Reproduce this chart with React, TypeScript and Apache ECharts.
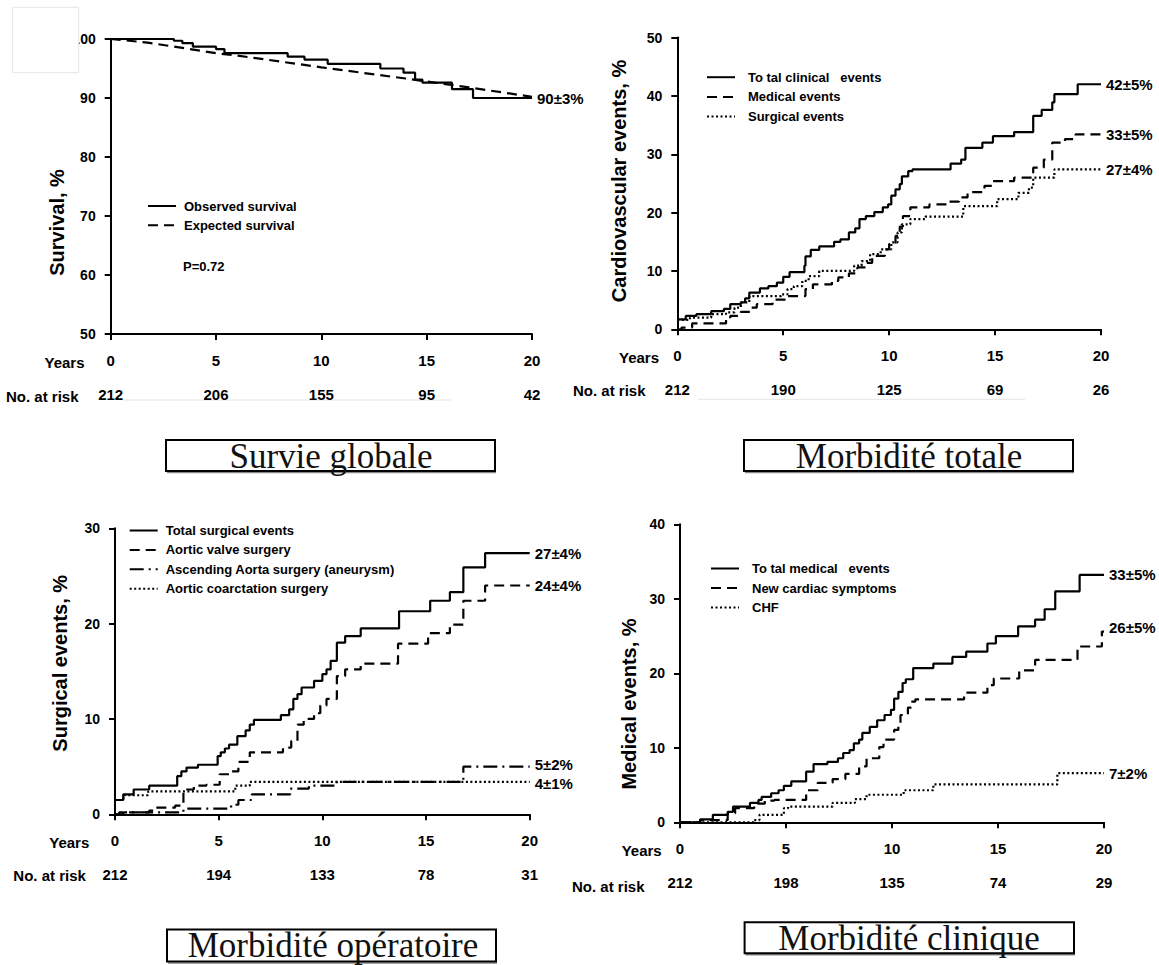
import React, { useEffect, useRef } from "react";
import * as echarts from "echarts";

// ---------- Data ----------
const yearTicks = [0, 5, 10, 15, 20];

const riskSurvival = [212, 206, 155, 95, 42];
const riskTotal = [212, 190, 125, 69, 26];
const riskSurgical = [212, 194, 133, 78, 31];
const riskMedical = [212, 198, 135, 74, 29];

// Panel 1 – Survie globale
const observedSurvival = [
  [0, 100], [3.0, 99.7], [3.4, 99.3], [3.9, 98.7], [5.0, 98.3], [5.4, 97.6], [8.4, 97.0],
  [9.2, 96.5], [10.3, 95.8], [12.8, 95.0], [13.9, 94.3], [14.45, 93.1], [14.8, 92.6],
  [16.2, 91.5], [17.2, 90.0], [20, 90.0],
];
const expectedSurvival = [
  [0, 100], [1.75, 99.4], [5, 97.6], [6, 97.2], [10, 95.2], [14, 93.3], [15, 92.8],
  [17, 91.8], [20, 90.2],
];

// Panel 2 – Morbidité totale
const totalClinical = [
  [0, 1.7], [0.4, 2.3], [0.9, 2.6], [1.6, 3.1], [2.2, 3.5], [2.5, 4.3], [3.0, 4.6], [3.2, 5.3],
  [3.4, 6.3], [3.9, 7.0], [4.3, 7.4], [4.7, 8.0], [5.0, 9.0], [5.3, 9.8], [6.0, 10.9],
  [6.05, 12.5], [6.3, 13.6], [6.7, 14.2], [7.4, 15.0], [7.7, 15.4], [8.1, 16.6], [8.4, 17.3],
  [8.6, 18.9], [8.9, 19.4], [9.3, 20.1], [9.7, 20.9], [9.95, 21.4], [10.1, 22.9], [10.3, 24.0],
  [10.5, 24.9], [10.6, 26.2], [10.9, 27.1], [11.1, 27.4], [12.9, 28.4], [13.4, 29.1],
  [13.6, 31.1], [14.4, 32.0], [14.9, 33.1], [15.9, 33.8], [16.8, 36.6], [17.2, 37.6],
  [17.7, 38.9], [17.8, 40.3], [18.9, 42.0], [20, 42.0],
];
const medicalEvents = [
  [0, 0], [0.2, 0.3], [0.7, 1.0], [2.3, 1.7], [2.5, 2.3], [3.0, 3.0], [3.5, 3.7], [3.75, 4.3],
  [4.5, 5.1], [5.2, 5.7], [6.05, 6.9], [6.4, 7.7], [7.3, 8.3], [7.6, 8.9], [8.1, 9.6],
  [8.5, 10.6], [8.9, 11.4], [9.2, 12.6], [9.8, 13.7], [10.0, 14.6], [10.3, 16.0], [10.5, 17.6],
  [10.65, 19.4], [11.0, 20.9], [11.9, 21.4], [12.8, 21.9], [13.3, 22.6], [13.7, 23.5],
  [14.5, 24.6], [14.9, 25.4], [15.9, 26.0], [16.8, 27.7], [17.3, 29.1], [17.7, 32.0],
  [18.3, 32.6], [18.8, 33.4], [20, 33.4],
];
const surgicalEvents = [
  [0, 1.6], [0.6, 2.0], [1.6, 2.6], [2.3, 2.9], [2.7, 3.7], [3.0, 4.6], [3.4, 5.7], [4.9, 6.0],
  [5.2, 6.9], [5.5, 7.4], [5.9, 8.3], [6.2, 9.1], [6.7, 10.0], [8.35, 10.9], [8.7, 11.7],
  [9.1, 12.9], [9.6, 13.7], [10.1, 14.9], [10.4, 16.6], [10.6, 18.0], [11.0, 18.9],
  [11.7, 19.3], [13.5, 21.1], [15.1, 22.3], [16.1, 23.4], [16.6, 24.3], [16.8, 26.0],
  [17.8, 27.4], [20, 27.4],
];

// Panel 3 – Morbidité opératoire
const totalSurgical = [
  [0, 1.5], [0.4, 2.1], [0.9, 2.6], [1.65, 3.0], [3.0, 4.0], [3.2, 4.5], [3.45, 4.9],
  [4.0, 5.2], [4.95, 6.1], [5.1, 6.5], [5.3, 6.9], [5.5, 7.3], [5.9, 8.2], [6.3, 8.8],
  [6.5, 9.4], [6.7, 9.9], [8.0, 10.4], [8.4, 11.0], [8.6, 12.1], [8.8, 12.6], [9.0, 13.3],
  [9.6, 14.0], [10.0, 14.7], [10.2, 15.2], [10.4, 16.1], [10.7, 18.0], [11.1, 18.7],
  [11.85, 19.5], [13.7, 21.3], [15.2, 22.4], [16.15, 23.3], [16.8, 25.9], [17.85, 27.4],
  [20, 27.4],
];
const aorticValve = [
  [0, 0], [0.2, 0.2], [1.65, 0.4], [1.9, 0.7], [2.9, 0.9], [3.3, 2.6], [3.8, 3.0], [4.4, 3.1],
  [5.05, 4.2], [5.5, 4.5], [5.95, 5.5], [6.5, 6.5], [8.1, 7.0], [8.5, 7.7], [8.8, 9.4],
  [9.1, 10.0], [9.6, 10.6], [9.9, 11.4], [10.2, 12.1], [10.7, 14.5], [11.1, 15.2],
  [11.85, 15.8], [13.65, 17.9], [15.1, 19.0], [16.15, 19.9], [16.8, 22.4], [17.85, 24.0],
  [20, 24.0],
];
const ascendingAorta = [
  [0, 0], [0.4, 0.2], [3.3, 0.6], [5.6, 1.0], [5.95, 1.5], [6.6, 2.1], [8.45, 2.7],
  [9.35, 3.0], [10.7, 3.4], [16.8, 5.0], [20, 5.0],
];
const coarctation = [
  [0, 1.5], [0.4, 2.0], [1.6, 2.4], [5.8, 3.0], [6.5, 3.4], [20, 3.4],
];

// Panel 4 – Morbidité clinique
const totalMedical = [
  [0, 0], [0.95, 0.4], [1.55, 1.0], [2.25, 1.4], [2.5, 2.1], [3.3, 2.6], [3.7, 3.0],
  [3.85, 3.4], [4.3, 3.9], [4.65, 4.3], [4.9, 4.9], [5.25, 5.5], [5.95, 6.8], [6.3, 7.8],
  [6.95, 8.1], [7.45, 8.6], [7.7, 9.3], [8.0, 9.7], [8.2, 10.6], [8.45, 11.1], [8.6, 12.0],
  [8.95, 12.8], [9.3, 13.7], [9.65, 14.4], [9.95, 15.1], [10.1, 16.6], [10.3, 17.5],
  [10.5, 18.7], [10.65, 19.2], [11.0, 20.7], [11.95, 21.3], [12.85, 22.2], [13.5, 22.9],
  [14.5, 24.0], [14.9, 25.0], [15.95, 26.3], [16.75, 27.2], [17.2, 28.6], [17.7, 31.0],
  [18.85, 33.2], [20, 33.2],
];
const newCardiac = [
  [0, 0], [0.95, 0.3], [2.25, 1.2], [2.6, 1.9], [3.5, 2.5], [4.0, 2.9], [4.45, 3.0],
  [5.95, 4.3], [6.5, 5.3], [7.2, 5.8], [7.8, 6.5], [8.45, 7.5], [8.8, 8.6], [9.4, 10.1],
  [9.6, 11.1], [10.1, 12.4], [10.3, 13.3], [10.4, 14.4], [10.75, 15.4], [10.9, 16.2],
  [11.1, 16.5], [13.4, 17.4], [14.5, 18.4], [14.8, 19.3], [16.0, 20.4], [16.75, 21.8],
  [18.75, 23.6], [19.9, 25.6], [20, 25.6],
];
const chf = [
  [0, 0], [3.5, 0.3], [3.75, 1.0], [4.9, 1.9], [5.1, 2.1], [7.2, 2.6], [8.25, 3.1],
  [8.8, 3.7], [10.55, 4.3], [11.95, 5.1], [17.8, 6.6], [20, 6.6],
];

// ---------- Styling / layout ----------
const SANS = '"Liberation Sans", Arial, Helvetica, sans-serif';
const SERIF = '"Liberation Serif", "Times New Roman", serif';
const DASH: Record<string, any> = {
  solid: "solid",
  dashed: [10, 6],
  dotted: [2, 2.5],
  dashdot: [14, 5, 2, 5],
};

type SeriesDef = {
  name: string;
  data: number[][];
  dash: string;
  label: string;
  step?: boolean;
  labelOffset?: number[];
};

type Panel = {
  grid: { left: number; top: number; width: number; height: number };
  yMin: number;
  yMax: number;
  risk: number[];
  yTitle: string;
  yTitlePos: number[];
  yearsPos: number[];
  riskPos: number[];
  legendPos: number[];
  legendGap: number;
  legendTextPad: number;
  series: SeriesDef[];
  box: number[];
  boxText: string;
  boxTextPos: number[];
  riskRule?: number[];
};

const panels: Panel[] = [
  {
    grid: { left: 110.7, top: 39, width: 421.3, height: 295 },
    yMin: 50, yMax: 100, risk: riskSurvival,
    yTitle: "Survival, %", yTitlePos: [57, 222.5],
    yearsPos: [84.5, 362], riskPos: [6, 396],
    legendPos: [147, 199.5], legendGap: 6.3, legendTextPad: 3,
    series: [
      { name: "Observed survival", data: observedSurvival, dash: "solid", label: "90±3%" },
      { name: "Expected survival", data: expectedSurvival, dash: "dashed", label: "", step: false },
    ],
    box: [166, 440, 329, 31], boxText: "Survie globale", boxTextPos: [331, 456],
    riskRule: [122, 400, 451],
  },
  {
    grid: { left: 677.3, top: 37.6, width: 423.7, height: 291.7 },
    yMin: 0, yMax: 50, risk: riskTotal,
    yTitle: "Cardiovascular events, %", yTitlePos: [618.5, 181],
    yearsPos: [659, 357.3], riskPos: [573, 390],
    legendPos: [706, 70.7], legendGap: 6.7, legendTextPad: 8,
    series: [
      { name: "To tal clinical   events", data: totalClinical, dash: "solid", label: "42±5%" },
      { name: "Medical events", data: medicalEvents, dash: "dashed", label: "33±5%" },
      { name: "Surgical events", data: surgicalEvents, dash: "dotted", label: "27±4%" },
    ],
    box: [744, 440, 329, 31], boxText: "Morbidité totale", boxTextPos: [909, 456],
    riskRule: [698, 399.3, 1025],
  },
  {
    grid: { left: 115, top: 528.3, width: 414.7, height: 286 },
    yMin: 0, yMax: 30, risk: riskSurgical,
    yTitle: "Surgical events, %", yTitlePos: [59.5, 663.3],
    yearsPos: [89.3, 842.3], riskPos: [13.3, 875],
    legendPos: [128.7, 524], legendGap: 6.4, legendTextPad: 3,
    series: [
      { name: "Total surgical events", data: totalSurgical, dash: "solid", label: "27±4%" },
      { name: "Aortic valve surgery", data: aorticValve, dash: "dashed", label: "24±4%" },
      { name: "Ascending Aorta surgery (aneurysm)", data: ascendingAorta, dash: "dashdot", label: "5±2%", labelOffset: [0, -2] },
      { name: "Aortic coarctation surgery", data: coarctation, dash: "dotted", label: "4±1%", labelOffset: [0, 2] },
    ],
    box: [167, 929.5, 329, 32], boxText: "Morbidité opératoire", boxTextPos: [333, 945.5],
  },
  {
    grid: { left: 680, top: 524.3, width: 424, height: 298 },
    yMin: 0, yMax: 40, risk: riskMedical,
    yTitle: "Medical events, %", yTitlePos: [628.5, 704],
    yearsPos: [661.7, 850.7], riskPos: [572, 886],
    legendPos: [710, 562], legendGap: 6.5, legendTextPad: 8,
    series: [
      { name: "To tal medical   events", data: totalMedical, dash: "solid", label: "33±5%" },
      { name: "New cardiac symptoms", data: newCardiac, dash: "dashed", label: "26±5%", labelOffset: [0, -4] },
      { name: "CHF", data: chf, dash: "dotted", label: "7±2%" },
    ],
    box: [744.6, 922.3, 329.4, 31], boxText: "Morbidité clinique", boxTextPos: [909, 938.5],
  },
];

function buildOption() {
  const grid: any[] = [];
  const xAxis: any[] = [];
  const yAxis: any[] = [];
  const legend: any[] = [];
  const series: any[] = [];
  const graphic: any[] = [];

  panels.forEach((p, i) => {
    grid.push({ ...p.grid, containLabel: false });
    // main x axis
    xAxis.push({
      type: "value", gridIndex: i, min: 0, max: 20, interval: 5,
      axisLine: { show: true, onZero: false, lineStyle: { color: "#000", width: 2 } },
      axisTick: { show: true, length: 6, lineStyle: { color: "#000", width: 2 } },
      splitLine: { show: false },
      axisLabel: { margin: 19, fontSize: 15, fontWeight: "bold", color: "#000", fontFamily: SANS },
    });
    // "No. at risk" row, aligned on the same scale
    xAxis.push({
      type: "value", gridIndex: i, min: 0, max: 20, interval: 5, position: "bottom",
      axisLine: { show: false }, axisTick: { show: false }, splitLine: { show: false },
      axisLabel: {
        margin: 53, fontSize: 15, fontWeight: "bold", color: "#000", fontFamily: SANS,
        formatter: (v: number) => {
          const k = yearTicks.indexOf(v);
          return k >= 0 ? String(p.risk[k]) : "";
        },
      },
    });
    yAxis.push({
      type: "value", gridIndex: i, min: p.yMin, max: p.yMax, interval: 10,
      axisLine: { show: true, onZero: false, lineStyle: { color: "#000", width: 2 } },
      axisTick: { show: true, length: 6, lineStyle: { color: "#000", width: 2 } },
      splitLine: { show: false },
      axisLabel: { margin: 15, fontSize: 14, fontWeight: "bold", color: "#000", fontFamily: SANS },
    });

    legend.push({
      orient: "vertical",
      left: p.legendPos[0], top: p.legendPos[1],
      itemWidth: 28, itemHeight: 14, itemGap: p.legendGap,
      selectedMode: false,
      padding: 0,
      data: p.series.map((s) => s.name),
      itemStyle: { opacity: 0 },
      textStyle: {
        fontSize: 13, fontWeight: "bold", color: "#000", fontFamily: SANS,
        padding: [0, 0, 0, p.legendTextPad],
      },
    });

    p.series.forEach((s) => {
      series.push({
        type: "line", name: s.name,
        xAxisIndex: i * 2, yAxisIndex: i,
        data: s.data,
        step: s.step === false ? false : "end",
        symbol: "none", showSymbol: false,
        color: "#000",
        lineStyle: { color: "#000", width: 2.2, type: DASH[s.dash] },
        endLabel: s.label
          ? {
              show: true, formatter: s.label, distance: 5,
              offset: s.labelOffset || [0, 0],
              fontSize: 15, fontWeight: "bold", color: "#000", fontFamily: SANS,
            }
          : { show: false },
        emphasis: { disabled: true },
      });
    });

    // Y axis title
    graphic.push({
      type: "text", x: p.yTitlePos[0], y: p.yTitlePos[1], rotation: Math.PI / 2,
      style: {
        text: p.yTitle, fill: "#000", fontSize: 20, fontWeight: "bold", fontFamily: SANS,
        align: "center", verticalAlign: "middle",
      },
    });
    // "Years"
    graphic.push({
      type: "text", x: p.yearsPos[0], y: p.yearsPos[1],
      style: {
        text: "Years", fill: "#000", fontSize: 15, fontWeight: "bold", fontFamily: SANS,
        align: "right", verticalAlign: "middle",
      },
    });
    // "No. at risk"
    graphic.push({
      type: "text", x: p.riskPos[0], y: p.riskPos[1],
      style: {
        text: "No. at risk", fill: "#000", fontSize: 15, fontWeight: "bold", fontFamily: SANS,
        align: "left", verticalAlign: "middle",
      },
    });
    if (p.riskRule) {
      graphic.push({
        type: "line", silent: true,
        shape: { x1: p.riskRule[0], y1: p.riskRule[1], x2: p.riskRule[2], y2: p.riskRule[1] },
        style: { stroke: "#e4e4e4", lineWidth: 1 },
      });
    }
    // Title box
    const [bx, by, bw, bh] = p.box;
    graphic.push({
      type: "line", silent: true,
      shape: { x1: bx + 1, y1: by + bh + 1.5, x2: bx + bw + 1, y2: by + bh + 1.5 },
      style: { stroke: "#888", lineWidth: 1.5 },
    });
    graphic.push({
      type: "rect", silent: true,
      shape: { x: bx, y: by, width: bw, height: bh },
      style: { fill: "#fff", stroke: "#000", lineWidth: 2 },
    });
    graphic.push({
      type: "text", silent: true, x: p.boxTextPos[0], y: p.boxTextPos[1],
      style: {
        text: p.boxText, fill: "#111", fontSize: 35, fontFamily: SERIF,
        align: "center", verticalAlign: "middle",
      },
    });
  });

  // P value in panel 1
  graphic.push({
    type: "text", x: 183, y: 266.7,
    style: {
      text: "P=0.72", fill: "#000", fontSize: 13, fontWeight: "bold", fontFamily: SANS,
      align: "left", verticalAlign: "middle",
    },
  });
  // light scan patch in the top-left corner
  graphic.push({
    type: "rect", silent: true, z: 100,
    shape: { x: 12.7, y: 7.3, width: 66, height: 65.4 },
    style: { fill: "#fff", stroke: "#e6e6e6", lineWidth: 1 },
  });

  return {
    animation: false,
    backgroundColor: "#fff",
    textStyle: { fontFamily: SANS },
    grid, xAxis, yAxis, legend, series, graphic,
  };
}

export default function App() {
  const ref = useRef<HTMLDivElement>(null);
  useEffect(() => {
    if (!ref.current) return;
    const chart = echarts.init(ref.current, null, { renderer: "svg" });
    chart.setOption(buildOption() as any);
    return () => chart.dispose();
  }, []);
  return (
    <div
      ref={ref}
      style={{ position: "fixed", left: 0, top: 0, width: 1159, height: 965, background: "#fff" }}
    />
  );
}
